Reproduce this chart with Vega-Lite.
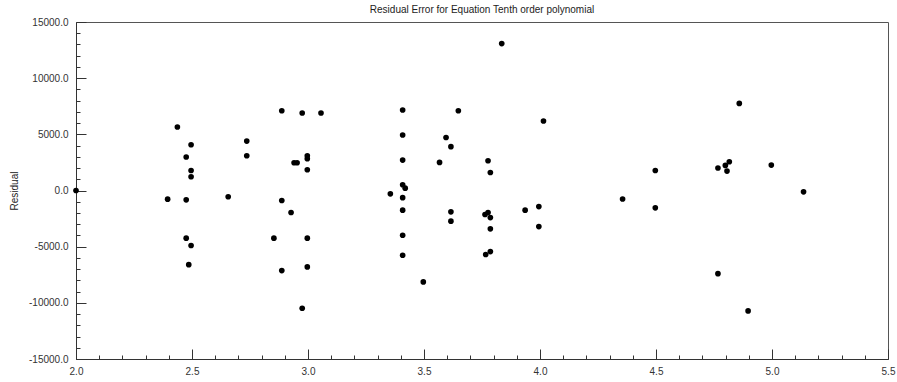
{
  "$schema": "https://vega.github.io/schema/vega-lite/v6.json",
  "width": 812,
  "height": 337,
  "autosize": {"type": "none"},
  "padding": {"left": 76, "top": 22, "right": 9, "bottom": 23},
  "background": "white",
  "title": {
    "text": "Residual Error for Equation Tenth order polynomial",
    "font": "Liberation Sans",
    "fontSize": 10,
    "fontWeight": "normal",
    "color": "#222222",
    "anchor": "middle",
    "frame": "group",
    "offset": 2
  },
  "config": {
    "view": {"stroke": "#555555", "strokeWidth": 1},
    "axis": {
      "domainColor": "#333333",
      "domainWidth": 1,
      "tickColor": "#333333",
      "tickWidth": 1,
      "labelFont": "Liberation Sans",
      "labelFontSize": 10,
      "labelColor": "#333333",
      "titleFont": "Liberation Sans",
      "titleFontSize": 10,
      "titleFontWeight": "normal",
      "titleColor": "#222222",
      "grid": false,
      "labelFlush": false,
      "labelOverlap": false
    }
  },
  "data": {
    "values": [
      {"x": 2.0, "residual": 0},
      {"x": 2.437, "residual": 5650},
      {"x": 2.475, "residual": 2980},
      {"x": 2.496, "residual": 4070},
      {"x": 2.496, "residual": 1780},
      {"x": 2.496, "residual": 1220},
      {"x": 2.736, "residual": 4400},
      {"x": 2.736, "residual": 3090},
      {"x": 2.887, "residual": 7100},
      {"x": 2.940, "residual": 2470},
      {"x": 2.953, "residual": 2470},
      {"x": 2.975, "residual": 6900},
      {"x": 2.997, "residual": 3090},
      {"x": 2.997, "residual": 2830},
      {"x": 2.997, "residual": 1850},
      {"x": 3.056, "residual": 6900},
      {"x": 3.408, "residual": 7170},
      {"x": 3.408, "residual": 4940},
      {"x": 3.408, "residual": 2710},
      {"x": 3.408, "residual": 510},
      {"x": 3.419, "residual": 210},
      {"x": 3.355, "residual": -300},
      {"x": 3.408, "residual": -640},
      {"x": 3.595, "residual": 4720},
      {"x": 3.616, "residual": 3900},
      {"x": 3.567, "residual": 2500},
      {"x": 3.835, "residual": 13080},
      {"x": 3.648, "residual": 7100},
      {"x": 3.776, "residual": 2650},
      {"x": 3.786, "residual": 1600},
      {"x": 4.015, "residual": 6190},
      {"x": 4.497, "residual": 1780},
      {"x": 4.356, "residual": -760},
      {"x": 4.859, "residual": 7750},
      {"x": 4.767, "residual": 2000},
      {"x": 4.799, "residual": 2230},
      {"x": 4.816, "residual": 2560},
      {"x": 4.806, "residual": 1730},
      {"x": 4.997, "residual": 2260},
      {"x": 5.136, "residual": -120},
      {"x": 2.395, "residual": -770},
      {"x": 2.475, "residual": -830},
      {"x": 2.656, "residual": -560},
      {"x": 2.887, "residual": -890},
      {"x": 2.927, "residual": -1960},
      {"x": 2.475, "residual": -4240},
      {"x": 2.496, "residual": -4900},
      {"x": 2.486, "residual": -6600},
      {"x": 2.853, "residual": -4240},
      {"x": 2.997, "residual": -4240},
      {"x": 2.887, "residual": -7130},
      {"x": 2.997, "residual": -6800},
      {"x": 2.975, "residual": -10480},
      {"x": 3.408, "residual": -1750},
      {"x": 3.408, "residual": -3980},
      {"x": 3.408, "residual": -5760},
      {"x": 3.497, "residual": -8140},
      {"x": 3.616, "residual": -1900},
      {"x": 3.616, "residual": -2730},
      {"x": 3.763, "residual": -2140},
      {"x": 3.776, "residual": -1960},
      {"x": 3.786, "residual": -2410},
      {"x": 3.786, "residual": -3410},
      {"x": 3.766, "residual": -5700},
      {"x": 3.786, "residual": -5440},
      {"x": 3.936, "residual": -1750},
      {"x": 3.995, "residual": -1430},
      {"x": 3.995, "residual": -3210},
      {"x": 4.497, "residual": -1540},
      {"x": 4.767, "residual": -7400},
      {"x": 4.897, "residual": -10720}
    ]
  },
  "mark": {"type": "circle", "size": 32, "color": "#000000", "opacity": 1},
  "encoding": {
    "x": {
      "field": "x",
      "type": "quantitative",
      "scale": {"domain": [2, 5.5], "nice": false, "zero": false},
      "axis": {
        "title": null,
        "values": [2.0, 2.1, 2.2, 2.3, 2.4, 2.5, 2.6, 2.7, 2.8, 2.9, 3.0, 3.1, 3.2, 3.3, 3.4, 3.5, 3.6, 3.7, 3.8, 3.9, 4.0, 4.1, 4.2, 4.3, 4.4, 4.5, 4.6, 4.7, 4.8, 4.9, 5.0, 5.1, 5.2, 5.3, 5.4, 5.5],
        "tickSize": {"condition": {"test": "round(datum.value * 10) % 5 === 0", "value": -10}, "value": -4},
        "labelExpr": "round(datum.value * 10) % 5 === 0 ? format(datum.value, '.1f') : ''",
        "labelPadding": 17
      }
    },
    "y": {
      "field": "residual",
      "type": "quantitative",
      "scale": {"domain": [-15000, 15000], "nice": false, "zero": false},
      "axis": {
        "title": "Residual",
        "titlePadding": 9,
        "values": [-15000, -14000, -13000, -12000, -11000, -10000, -9000, -8000, -7000, -6000, -5000, -4000, -3000, -2000, -1000, 0, 1000, 2000, 3000, 4000, 5000, 6000, 7000, 8000, 9000, 10000, 11000, 12000, 13000, 14000, 15000],
        "tickSize": {"condition": {"test": "datum.value % 5000 === 0", "value": -10}, "value": -4},
        "labelExpr": "datum.value % 5000 === 0 ? toString(datum.value) + '.0' : ''",
        "labelPadding": 18
      }
    }
  }
}
